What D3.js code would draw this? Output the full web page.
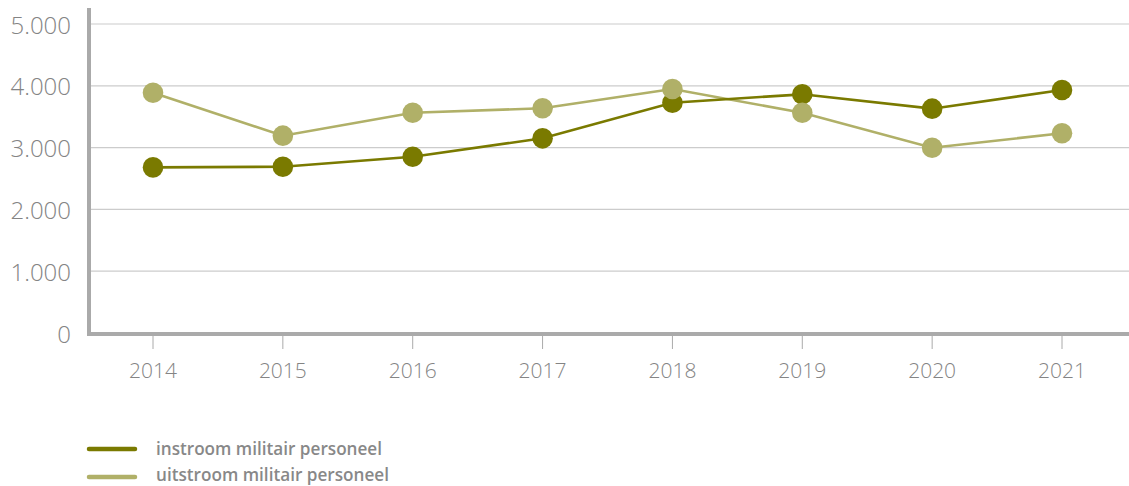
<!DOCTYPE html>
<html>
<head>
<meta charset="utf-8">
<script src="https://cdn.jsdelivr.net/npm/d3@7"></script>
<style>
  html, body { margin: 0; padding: 0; background: #fff; }
  svg { display: block; font-family: "Open Sans", sans-serif; }
</style>
</head>
<body>
<svg id="chart" width="1129" height="486"></svg>
<script>
const years = ["2014","2015","2016","2017","2018","2019","2020","2021"];
const instroom = [2680, 2690, 2853, 3150, 3727, 3862, 3630, 3932];
const uitstroom = [3888, 3193, 3565, 3636, 3948, 3565, 2998, 3231];
const yTicks = [0, 1000, 2000, 3000, 4000, 5000];
const yTickLabels = ["0", "1.000", "2.000", "3.000", "4.000", "5.000"];
const seriesNames = ["instroom militair personeel", "uitstroom militair personeel"];

const colors = ["#7a7a00", "#b0b068"];
const svg = d3.select("#chart");

const x = d3.scalePoint().domain(years).range([153, 1062]);
const y = d3.scaleLinear().domain([0, 5000]).range([333, 24]);

// gridlines
svg.append("g").selectAll("line").data(yTicks.filter(d => d > 0)).join("line")
  .attr("x1", 91).attr("x2", 1129)
  .attr("y1", d => y(d)).attr("y2", d => y(d))
  .attr("stroke", "#cccccc").attr("stroke-width", 1.2);

// y labels
svg.append("g").selectAll("text").data(yTicks).join("text")
  .attr("x", 71).attr("y", d => y(d))
  .attr("text-anchor", "end").attr("dominant-baseline", "central")
  .attr("font-size", 24).attr("font-weight", 300).attr("fill", "#848484")
  .text((d, i) => yTickLabels[i]);

// x ticks
svg.append("g").selectAll("line").data(years).join("line")
  .attr("x1", d => x(d)).attr("x2", d => x(d))
  .attr("y1", 336).attr("y2", 349)
  .attr("stroke", "#aaaaaa").attr("stroke-width", 1);

svg.append("g").selectAll("text").data(years).join("text")
  .attr("x", d => x(d)).attr("y", 370)
  .attr("text-anchor", "middle").attr("dominant-baseline", "central")
  .attr("font-size", 21).attr("font-weight", 300).attr("fill", "#848484")
  .text(d => d);

// axes lines
svg.append("line").attr("x1", 89).attr("x2", 89).attr("y1", 8).attr("y2", 336)
  .attr("stroke", "#aaaaaa").attr("stroke-width", 4);
svg.append("line").attr("x1", 87).attr("x2", 1129).attr("y1", 334).attr("y2", 334)
  .attr("stroke", "#aaaaaa").attr("stroke-width", 4);

const series = [instroom, uitstroom];
const line = d3.line().x((d, i) => x(years[i])).y(d => y(d));

[1, 0].forEach(si => {
  svg.append("path").datum(series[si])
    .attr("d", line).attr("fill", "none")
    .attr("stroke", colors[si]).attr("stroke-width", 2.6);
});
[0, 1].forEach(si => {
  svg.append("g").selectAll("circle").data(series[si]).join("circle")
    .attr("cx", (d, i) => x(years[i])).attr("cy", d => y(d))
    .attr("r", 10.3).attr("fill", colors[si]);
});

// legend
const leg = svg.append("g");
seriesNames.forEach((name, i) => {
  const ly = 449 + i * 28;
  leg.append("line").attr("x1", 89).attr("x2", 135).attr("y1", ly).attr("y2", ly)
    .attr("stroke", colors[i]).attr("stroke-width", 4.5).attr("stroke-linecap", "round");
  leg.append("text").attr("x", 156).attr("y", ly - 1 - i * 2)
    .attr("dominant-baseline", "central")
    .attr("font-size", 18).attr("font-weight", 600).attr("fill", "#888888")
    .attr("textLength", i === 0 ? 226 : 233).attr("lengthAdjust", "spacingAndGlyphs")
    .text(name);
});
</script>
</body>
</html>
